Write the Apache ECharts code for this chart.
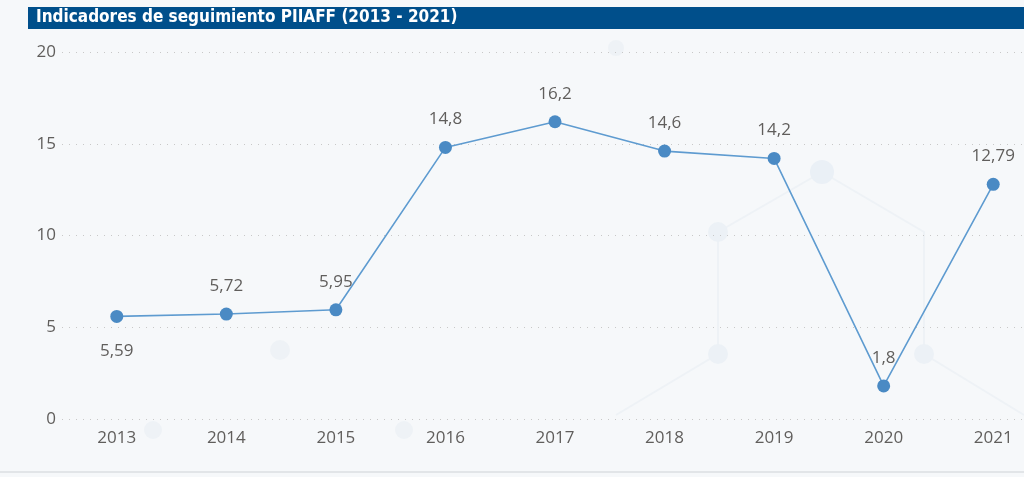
<!DOCTYPE html>
<html>
<head>
<meta charset="utf-8">
<script src="https://cdn.jsdelivr.net/npm/echarts@6/dist/echarts.min.js"></script>
<style>
html, body { margin: 0; padding: 0; width: 100%; height: 100%; overflow: hidden; background: #f6f8fa; }
#main { margin: 0; padding: 0; width: 1048px; height: 477px; }
</style>
</head>
<body>
<div id="main"></div>
<script>
// datos
const years = ["2013", "2014", "2015", "2016", "2017", "2018", "2019", "2020", "2021"];
const values = [5.59, 5.72, 5.95, 14.8, 16.2, 14.6, 14.2, 1.8, 12.79];
const labelBelow = [true, false, false, false, false, false, false, false, false];

const fmt = v => String(v).replace(".", ",");

let myChart = echarts.init(document.getElementById("main"));
myChart.setOption({
  backgroundColor: "#f6f8fa",
  textStyle: { fontFamily: "Open Sans" },
  graphic: [
    // fondo decorativo tenue
    { type: "polyline", shape: { points: [[822, 172], [718, 232], [718, 354], [616, 415]] }, style: { stroke: "#eef2f6", lineWidth: 2, fill: null }, silent: true, z: -1 },
    { type: "polyline", shape: { points: [[822, 172], [924, 232], [924, 354], [1024, 415]] }, style: { stroke: "#eef2f6", lineWidth: 2, fill: null }, silent: true, z: -1 },
    { type: "circle", shape: { cx: 822, cy: 172, r: 12 }, style: { fill: "#eaf0f6" }, silent: true, z: -1 },
    { type: "circle", shape: { cx: 718, cy: 232, r: 10 }, style: { fill: "#ecf1f6" }, silent: true, z: -1 },
    { type: "circle", shape: { cx: 718, cy: 354, r: 10 }, style: { fill: "#ecf1f6" }, silent: true, z: -1 },
    { type: "circle", shape: { cx: 924, cy: 354, r: 10 }, style: { fill: "#ecf1f6" }, silent: true, z: -1 },
    { type: "circle", shape: { cx: 280, cy: 350, r: 10 }, style: { fill: "#eef2f6" }, silent: true, z: -1 },
    { type: "circle", shape: { cx: 153, cy: 430, r: 9 }, style: { fill: "#eef2f6" }, silent: true, z: -1 },
    { type: "circle", shape: { cx: 404, cy: 430, r: 9 }, style: { fill: "#eef2f6" }, silent: true, z: -1 },
    { type: "circle", shape: { cx: 616, cy: 48, r: 8 }, style: { fill: "#eef2f6" }, silent: true, z: -1 },
    { type: "rect", left: 28, top: 7, shape: { width: 1000, height: 22 }, style: { fill: "#004f8b" } },
    { type: "text", x: 36, y: 18, style: { text: "Indicadores de seguimiento PIIAFF (2013 - 2021)", fill: "#fff", verticalAlign: "middle", font: "bold 17px 'DejaVu Sans Condensed', 'Liberation Sans Narrow', sans-serif" } },
    { type: "rect", left: 0, top: 471, shape: { width: 1048, height: 2 }, style: { fill: "#e2e5e8" } }
  ],
  grid: { left: 62, right: 0, top: 52, bottom: 58 },
  xAxis: {
    type: "category",
    data: years,
    axisLine: { show: false },
    axisTick: { show: false },
    axisLabel: { color: "#605e5c", fontSize: 17, margin: 11 }
  },
  yAxis: {
    type: "value",
    min: 0,
    max: 20,
    interval: 5,
    axisLine: { show: false },
    axisTick: { show: false },
    axisLabel: { color: "#605e5c", fontSize: 17, margin: 6 },
    splitLine: { lineStyle: { color: "#c8c8c8", type: [1, 6], width: 1 } }
  },
  series: [
    {
      type: "line",
      data: values.map((v, i) => ({
        value: v,
        label: { position: labelBelow[i] ? "bottom" : "top", distance: labelBelow[i] ? 20 : 13 }
      })),
      symbol: "circle",
      symbolSize: 13,
      itemStyle: { color: "#4a8ac4" },
      lineStyle: { color: "#5e9bd0", width: 1.6 },
      label: {
        show: true,
        color: "#605e5c",
        fontSize: 17,
        formatter: p => fmt(p.value)
      }
    }
  ]
});
window.onresize = myChart.resize;
</script>
</body>
</html>
